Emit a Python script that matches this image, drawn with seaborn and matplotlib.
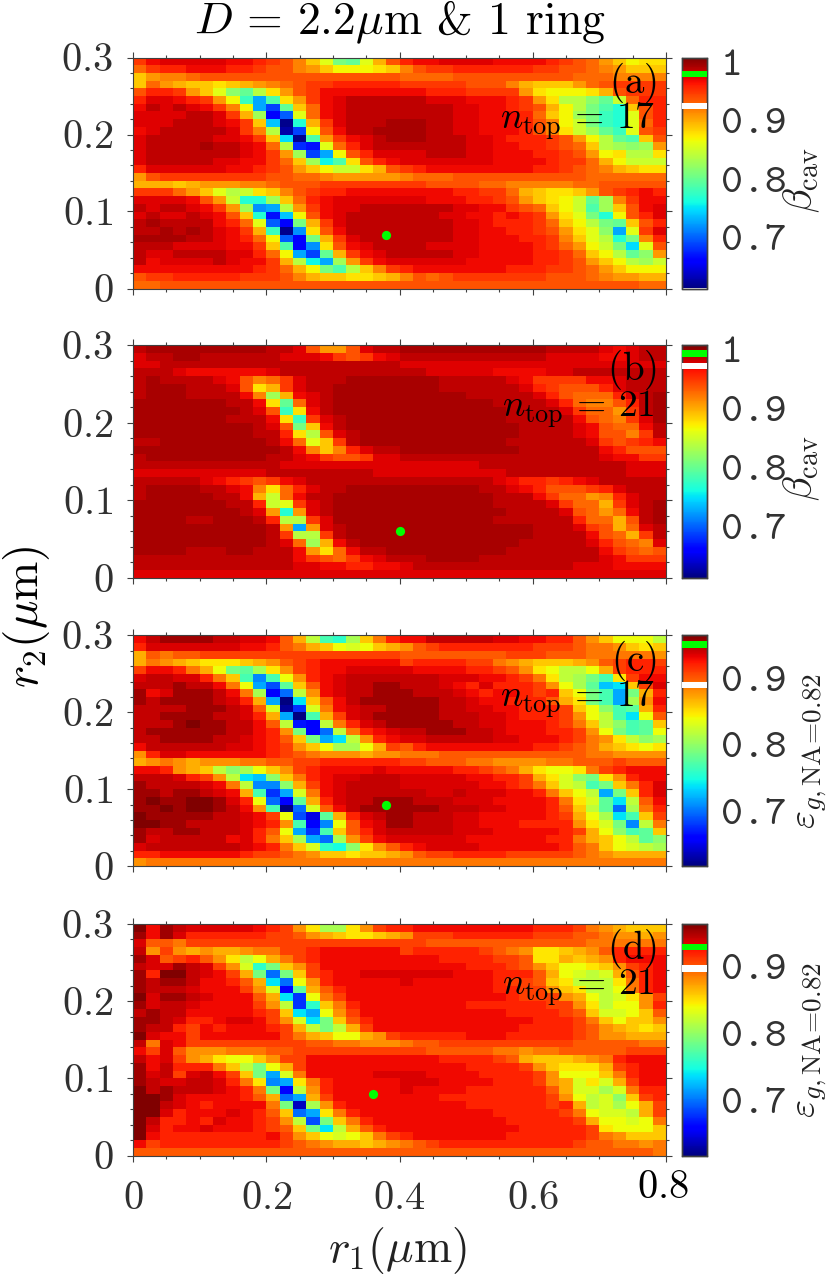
import numpy as np
import seaborn as sns
import matplotlib
matplotlib.use("Agg")
import matplotlib.pyplot as plt
from matplotlib.transforms import ScaledTranslation

# values in percent, top row (r2 = 0.3) first, r1 = 0 on the left
beta_17 = [
[94,96,97,97,97,97,97,96,96,95,94,93,91,88,85,80,79,85,89,93,95,96,96,97,97,97,97,96,96,96,96,95,94,93,92,90,88,86,87,87],
[92,94,95,95,96,96,96,95,95,94,93,93,91,90,88,86,86,86,87,88,91,93,94,94,95,95,95,95,95,95,94,94,93,93,92,91,90,88,88,88],
[88,90,91,91,92,93,93,93,93,93,93,93,93,93,93,93,93,93,93,93,92,92,92,92,93,93,93,93,93,93,93,93,93,92,92,92,91,91,91,91],
[88,92,90,89,88,88,87,88,89,90,91,92,93,94,94,95,95,95,95,95,94,94,94,94,94,93,93,93,91,89,88,88,88,90,92,93,94,94,94,94],
[93,95,95,94,90,88,85,81,79,83,87,90,93,94,96,96,96,96,96,96,96,96,95,95,95,94,94,94,94,90,87,86,86,86,87,89,93,94,94,94],
[95,97,97,96,95,94,90,86,77,72,78,87,90,94,96,97,98,98,98,98,98,98,97,97,97,96,96,96,95,94,90,87,83,83,81,79,84,92,95,95],
[96,98,97,98,97,96,94,91,86,72,68,79,88,92,96,97,98,98,98,98,98,98,98,98,97,97,96,96,95,94,93,89,86,83,80,78,76,88,93,95],
[97,97,97,97,98,98,97,94,89,82,65,69,85,92,96,97,98,98,98,98,98,98,98,98,97,97,96,96,96,95,92,88,86,82,80,77,76,85,93,95],
[97,97,97,98,98,98,97,96,94,88,73,61,76,89,94,97,98,98,98,99,99,99,98,98,97,97,96,96,96,95,93,91,86,84,80,77,76,85,92,95],
[96,97,98,98,98,98,98,97,94,91,83,62,68,86,93,96,98,98,99,99,99,99,98,98,97,97,96,96,96,95,93,91,87,84,82,79,77,85,93,94],
[97,98,98,98,98,98,97,97,96,94,88,74,61,78,90,94,96,97,98,99,99,99,98,98,98,97,97,96,95,95,95,94,93,90,86,83,79,78,88,93],
[97,98,98,98,98,99,98,98,97,96,92,83,67,66,85,92,95,97,98,98,98,98,98,98,98,97,97,96,96,95,95,94,93,92,88,83,82,81,82,90],
[97,98,98,98,98,98,98,98,97,96,94,90,82,68,72,86,93,95,97,97,97,97,98,98,98,97,97,96,96,96,95,95,94,93,90,86,87,83,83,87],
[97,98,98,98,98,98,97,97,96,96,94,92,88,82,75,78,87,93,95,96,97,97,97,97,97,97,97,96,96,96,96,95,94,94,92,89,86,84,84,84],
[95,97,97,97,97,97,97,96,96,95,94,93,90,88,86,84,84,87,89,93,94,95,96,96,96,96,96,96,96,96,95,95,94,93,92,91,89,88,87,87],
[90,93,94,94,94,94,94,94,94,94,93,93,92,92,91,90,90,90,90,90,91,92,92,92,93,93,93,93,93,93,93,93,93,93,92,92,92,92,92,92],
[89,89,89,88,89,90,90,90,91,91,92,93,93,93,94,94,94,94,94,94,94,94,93,93,93,93,92,92,91,91,91,91,91,92,92,93,93,93,93,93],
[94,94,94,92,90,88,85,83,84,87,88,91,93,94,95,95,96,96,96,96,96,96,96,96,95,95,94,94,92,89,88,87,87,88,90,93,94,95,96,95],
[97,97,97,97,96,93,90,84,76,76,82,88,92,95,96,97,97,97,97,97,97,97,96,96,96,95,95,94,93,90,88,87,86,84,79,82,91,94,96,96],
[98,97,98,98,97,96,94,90,82,71,72,83,90,94,96,97,97,98,98,98,98,98,98,98,97,97,96,96,94,93,92,88,86,84,78,82,88,93,96,97],
[97,98,97,97,98,97,96,93,88,76,66,73,86,93,96,97,98,98,98,98,98,98,98,97,97,96,96,95,96,95,94,90,87,85,80,76,86,93,95,97],
[98,99,98,98,98,98,96,95,92,85,69,65,80,89,94,97,98,98,98,98,98,98,98,98,97,97,96,95,95,95,94,92,88,86,83,80,79,88,93,95],
[98,98,99,98,99,98,97,96,94,89,77,61,71,87,93,96,98,98,98,98,98,98,98,98,97,97,96,96,95,95,94,93,90,87,85,81,72,85,94,97],
[99,99,99,99,98,98,97,96,95,92,86,69,65,80,89,94,97,98,98,98,98,98,98,98,97,97,96,96,96,95,95,94,91,88,85,83,76,80,91,95],
[98,98,98,97,97,97,97,96,96,94,88,78,65,71,87,93,96,97,98,98,98,98,97,97,97,97,96,96,96,96,95,94,92,90,86,84,80,74,85,93],
[98,97,97,98,98,98,98,97,97,95,92,86,72,68,79,89,94,96,97,98,98,98,98,98,97,97,96,96,96,96,95,95,94,92,88,86,83,79,81,90],
[98,96,97,97,97,97,98,97,96,96,94,89,83,75,72,82,90,94,96,97,97,97,97,97,97,96,96,96,96,96,95,95,94,93,90,88,86,83,82,84],
[96,96,96,96,96,96,96,96,96,95,94,92,89,86,80,78,83,88,91,94,95,96,96,96,96,96,96,96,95,95,95,94,94,93,92,90,88,86,86,86],
[93,94,94,95,95,95,95,95,94,94,94,93,91,89,88,88,87,87,88,89,91,93,92,93,94,94,94,94,94,94,94,93,93,93,92,91,90,90,89,89],
[92,92,93,93,93,93,93,93,93,93,93,93,93,93,93,93,93,93,93,93,93,93,93,93,93,93,93,93,93,93,93,93,93,93,93,93,93,93,92,92],
]

beta_21 = [
[98,99,99,99,99,99,99,99,99,99,98,98,97,93,90,90,93,97,98,98,99,99,99,99,99,99,99,99,99,99,99,98,98,98,98,97,96,97,98,98],
[97,98,98,99,99,98,98,98,98,98,98,97,97,97,96,94,93,94,96,97,98,98,98,98,98,98,98,98,98,98,98,97,97,97,97,96,96,97,98,98],
[97,97,98,98,98,98,98,98,98,98,98,98,98,98,98,98,98,98,98,98,97,97,97,97,97,97,97,97,97,97,97,97,97,97,97,97,97,97,97,97],
[98,98,98,97,96,96,96,96,96,96,97,98,98,98,98,98,98,98,98,98,98,98,97,97,97,97,97,96,96,96,96,97,97,98,98,98,98,98,98,98],
[98,99,98,98,98,98,97,96,93,91,92,94,97,98,98,98,99,99,99,99,99,99,99,98,98,98,98,98,97,96,94,94,94,94,96,96,97,98,98,98],
[98,99,99,99,98,98,98,97,93,87,89,94,97,98,98,99,99,99,99,99,99,99,99,98,98,98,98,98,98,97,95,94,93,93,93,95,97,98,98,98],
[98,99,99,99,98,98,98,98,96,91,82,89,96,97,98,99,99,99,99,99,99,99,99,99,99,98,98,98,98,98,97,95,93,92,92,92,95,97,98,99],
[99,99,99,99,99,99,99,98,98,96,87,79,92,97,98,99,99,99,99,99,99,99,99,99,99,99,99,98,98,98,98,97,95,92,91,91,93,95,98,99],
[99,99,99,99,99,99,99,99,98,97,93,77,87,96,98,99,99,99,99,99,99,99,99,99,99,99,99,99,98,98,98,98,97,94,92,92,90,94,98,99],
[99,99,99,99,99,99,99,98,98,98,96,87,77,94,97,98,99,99,99,99,99,99,99,99,99,99,99,99,98,98,98,98,98,96,93,92,91,94,97,99],
[99,99,99,99,99,99,99,99,99,98,97,93,80,88,96,98,99,99,99,99,99,99,99,99,99,99,99,99,99,98,98,98,98,97,96,93,92,92,96,98],
[99,99,99,99,99,99,99,99,99,98,98,95,87,83,93,97,98,99,99,99,99,99,99,99,99,99,99,99,99,98,98,98,98,97,96,93,93,91,94,98],
[98,98,99,99,99,99,99,99,99,99,98,96,92,85,88,94,98,99,99,99,99,99,99,99,99,99,99,99,98,98,98,98,98,98,97,94,93,94,95,96],
[99,99,99,99,99,99,99,99,99,99,99,98,96,91,88,91,95,97,98,98,99,99,99,99,99,99,99,99,99,98,98,98,98,98,98,96,95,93,93,93],
[98,99,99,99,99,99,99,99,99,99,98,98,97,96,94,93,93,94,97,97,98,98,98,98,98,98,98,98,98,98,98,98,98,98,98,97,96,96,94,94],
[98,98,98,98,98,98,98,98,98,98,98,97,97,97,97,97,97,97,97,97,97,97,97,97,97,97,98,98,98,98,98,98,98,98,98,98,98,97,97,97],
[97,97,97,97,97,97,97,97,97,97,98,98,98,98,98,98,98,98,97,97,97,97,97,97,97,97,97,97,98,98,98,98,98,98,98,98,98,97,97,97],
[98,98,98,98,98,97,96,95,94,93,94,96,97,98,98,98,98,98,98,98,98,98,98,98,98,98,98,97,96,95,95,94,95,96,97,98,98,98,98,98],
[98,99,99,99,99,98,98,97,96,91,87,92,95,97,98,98,99,99,99,99,99,99,99,99,99,99,98,98,97,96,95,93,93,93,94,95,97,98,98,98],
[98,99,99,99,99,99,98,98,96,89,84,92,96,98,98,99,99,99,99,99,99,99,99,99,99,99,99,98,98,98,96,94,92,92,90,91,95,97,98,98],
[99,99,99,99,99,99,99,98,98,95,84,85,94,97,98,99,99,99,99,99,99,99,99,99,99,99,99,98,98,98,98,97,94,92,92,89,94,97,98,99],
[99,99,99,99,99,99,99,99,98,97,90,76,90,97,98,99,99,99,99,99,99,99,99,99,99,99,99,99,98,98,98,98,97,93,92,90,92,96,98,99],
[99,99,99,99,98,98,99,99,99,98,95,83,83,94,97,99,99,99,99,99,99,99,99,99,99,99,99,98,98,98,98,98,98,95,92,92,89,93,98,99],
[99,99,99,99,99,99,99,99,99,99,98,90,72,90,97,98,99,99,99,99,99,99,99,99,99,99,99,99,99,99,98,98,98,97,94,93,89,92,97,98],
[99,99,99,99,99,99,99,99,99,99,98,94,83,83,94,98,99,99,99,99,99,99,99,99,99,99,99,99,99,99,98,98,98,98,96,93,92,89,94,98],
[99,99,99,99,99,99,99,99,99,99,98,97,92,82,89,96,98,99,99,99,99,99,99,99,99,99,99,99,99,98,98,98,98,98,97,95,93,92,91,97],
[99,99,99,99,98,98,98,99,99,98,98,98,96,90,87,92,96,98,98,99,99,99,99,99,99,99,99,99,98,98,98,98,98,98,98,96,94,93,92,93],
[98,98,98,98,98,98,98,98,98,98,98,98,96,94,93,92,94,96,97,98,98,98,99,99,99,99,98,98,98,98,98,98,98,98,98,97,96,94,94,94],
[98,98,98,98,98,98,98,98,98,98,98,98,97,97,96,96,95,95,96,96,97,98,98,98,98,98,98,98,98,98,98,98,98,97,97,97,96,96,96,96],
[97,97,97,97,97,97,97,97,97,97,97,97,97,97,97,97,97,97,97,97,97,97,97,97,97,97,97,97,97,97,97,97,97,97,97,97,97,97,97,97],
]

eps_17 = [
[92,94,95,95,95,95,94,94,93,93,92,89,86,81,76,75,80,85,88,91,92,92,94,94,94,94,94,93,93,92,92,91,91,89,87,85,83,83,83,81],
[91,93,93,93,93,93,93,93,92,92,91,89,88,86,85,83,82,83,85,86,87,89,90,91,91,91,91,91,91,91,90,90,90,89,88,88,87,85,84,85],
[86,89,88,89,89,90,90,90,90,90,90,90,90,90,90,90,90,90,90,90,89,89,89,89,89,89,89,89,90,90,90,89,89,89,88,88,88,88,88,87],
[86,88,87,86,85,84,84,84,85,86,87,89,90,91,92,92,92,92,92,92,90,91,91,91,91,90,90,88,87,86,85,85,85,86,87,89,90,91,91,90],
[90,92,92,91,88,86,83,78,77,80,84,87,90,91,92,92,93,93,93,93,93,92,92,92,92,91,91,90,89,87,84,83,81,81,83,86,90,91,91,91],
[93,94,94,93,93,91,88,85,76,70,76,83,87,91,92,93,94,94,94,94,94,94,94,93,93,93,92,92,91,90,88,84,81,80,78,76,84,90,92,92],
[94,94,94,95,94,94,92,88,83,71,68,77,85,89,92,93,94,94,95,95,94,94,94,93,92,91,93,91,91,91,90,87,83,80,77,72,73,85,90,93],
[95,92,93,95,95,95,94,92,88,80,65,69,81,87,92,93,94,94,95,95,95,94,94,94,93,92,91,92,92,91,90,91,85,83,78,76,71,78,86,91],
[95,94,95,95,95,95,94,93,91,86,71,61,73,85,89,92,94,95,95,95,95,95,95,94,94,93,92,92,91,91,91,89,86,84,78,76,71,80,87,92],
[94,94,94,94,95,95,95,94,93,89,82,62,67,82,88,92,93,94,94,95,95,95,95,94,94,93,93,92,92,91,91,91,90,85,83,79,76,77,86,91],
[94,94,95,95,95,95,94,94,93,91,86,71,61,76,86,90,93,94,95,95,95,95,95,94,94,94,93,93,92,91,91,91,90,87,83,81,76,73,83,89],
[94,94,94,95,96,95,95,94,94,92,89,81,66,65,81,88,91,93,94,95,95,95,95,95,94,94,93,93,92,92,92,91,90,88,85,81,79,76,77,85],
[94,95,95,95,95,95,95,94,94,92,91,87,78,65,69,81,88,91,92,93,94,94,95,95,95,94,94,93,92,92,92,91,91,90,87,83,78,76,77,83],
[94,94,95,95,95,95,94,94,93,92,91,89,85,78,71,73,81,87,91,92,93,93,94,94,94,94,94,93,93,92,92,92,91,90,88,87,84,81,79,80],
[92,94,94,94,94,94,94,93,93,92,91,90,87,85,83,80,80,83,86,90,89,91,92,92,92,92,92,92,92,92,91,91,90,89,88,86,85,84,83,84],
[87,91,93,93,92,92,92,92,92,92,91,90,89,88,87,87,87,86,87,87,88,88,88,89,89,89,89,89,89,89,89,89,89,89,88,88,87,87,87,87],
[86,87,88,87,86,87,87,87,88,88,89,89,90,90,91,91,91,91,91,91,90,90,89,89,89,88,88,87,87,87,87,88,88,89,89,89,90,89,89,89],
[92,92,91,87,86,85,81,79,80,83,85,87,90,91,92,92,92,92,93,92,92,92,92,92,91,91,90,89,88,86,84,83,83,84,88,90,91,92,92,92],
[94,94,94,93,91,90,87,81,73,72,79,85,88,91,92,93,93,94,94,94,93,93,93,93,93,92,92,91,91,90,86,84,82,79,78,84,87,91,92,92],
[95,94,94,94,94,93,92,88,81,70,70,79,86,90,92,93,94,94,94,94,93,93,93,93,93,93,92,92,91,90,88,85,82,81,76,78,85,88,91,93],
[95,95,94,95,95,94,93,92,86,76,67,71,82,88,92,93,94,94,94,94,94,94,93,93,94,93,93,93,92,92,91,88,85,83,81,71,78,85,91,93],
[95,96,95,95,96,96,95,93,91,83,69,65,77,86,91,93,94,94,95,95,95,94,94,94,93,93,93,92,92,92,92,91,88,84,82,77,73,81,89,92],
[95,95,96,95,96,96,95,94,92,87,76,61,69,82,89,92,94,95,95,95,95,95,95,94,94,94,93,93,92,92,92,91,89,85,81,77,69,80,88,91],
[96,95,95,95,95,95,94,94,93,92,90,83,68,64,77,86,91,93,94,95,95,94,94,94,93,93,92,92,92,92,92,91,90,86,83,80,73,76,85,90],
[96,96,95,95,94,94,94,94,93,92,91,87,76,65,70,83,89,92,93,95,95,94,94,94,93,93,92,92,92,91,91,91,91,87,84,82,78,70,81,88],
[95,94,94,95,95,94,94,94,93,91,89,83,71,67,76,85,89,91,93,94,94,94,94,94,93,93,93,92,92,92,92,92,91,90,86,83,79,76,77,85],
[95,93,94,94,94,94,94,92,93,91,88,85,80,71,69,80,87,90,92,93,93,93,93,93,93,92,92,92,92,92,92,91,91,88,86,85,83,81,77,79],
[93,94,94,94,94,94,94,94,93,92,91,88,85,82,75,74,79,84,87,89,91,92,93,93,93,93,92,92,92,92,92,92,91,89,88,85,83,82,81,80],
[91,91,92,92,92,92,92,92,91,90,90,89,88,87,85,85,84,85,85,86,87,89,90,90,91,91,91,91,90,90,90,90,90,89,88,87,86,86,86,86],
[87,88,88,88,88,88,88,88,88,88,88,88,88,88,88,88,88,88,88,88,88,88,88,88,88,88,88,88,88,88,88,88,88,88,88,88,88,88,88,88],
]

eps_21 = [
[96,92,95,94,93,93,93,93,93,92,91,90,87,84,80,80,84,87,90,91,91,92,92,92,92,92,92,92,92,92,91,91,91,90,88,87,86,85,85,85],
[95,92,95,93,91,91,91,91,91,91,90,90,89,87,86,85,84,84,85,86,87,90,90,90,91,91,91,91,91,91,90,90,90,89,89,88,87,87,86,87],
[93,89,89,88,90,90,90,90,90,90,90,90,90,90,90,90,90,90,90,90,90,90,89,89,89,89,89,89,89,89,89,89,89,89,88,88,88,88,88,88],
[94,87,90,87,86,87,86,86,87,88,88,90,90,91,92,92,92,92,92,92,90,91,91,91,91,91,90,89,88,87,84,84,85,86,87,89,91,91,91,91],
[95,93,89,90,91,89,87,84,81,83,86,88,90,91,92,92,92,92,92,92,92,92,92,91,91,91,91,90,90,89,84,84,86,85,86,87,91,92,92,92],
[94,93,93,95,94,93,90,87,82,75,78,85,87,90,92,92,92,92,92,92,92,92,92,92,92,91,91,91,90,89,87,85,83,83,84,85,87,90,91,92],
[95,91,96,96,94,93,92,90,86,78,69,78,85,90,91,92,92,93,93,93,93,93,93,93,92,92,92,91,91,91,89,86,83,82,81,82,86,89,91,92],
[95,94,95,95,94,92,92,91,89,86,73,69,83,87,91,92,92,92,92,92,93,92,92,92,92,92,92,91,90,90,89,85,84,81,81,81,84,88,91,92],
[95,94,94,94,93,92,92,92,90,87,82,65,77,86,89,91,92,92,92,92,92,92,92,92,92,92,92,91,91,90,90,87,85,84,81,81,83,88,91,92],
[96,93,95,95,94,93,92,92,92,89,86,73,67,83,88,90,92,92,92,92,92,92,92,92,92,92,92,92,91,90,90,90,87,86,83,81,82,84,87,90],
[95,93,94,94,93,92,92,92,92,90,87,81,67,75,85,88,91,92,92,92,92,92,92,92,92,91,91,91,91,91,91,90,90,87,84,81,83,83,87,91],
[94,95,94,94,92,92,92,92,92,91,90,85,73,71,83,87,90,92,92,92,92,92,92,92,92,92,92,92,91,91,91,91,90,89,85,82,82,83,85,89],
[95,95,94,93,91,91,92,93,93,92,90,87,82,73,78,85,89,91,92,92,92,92,92,92,92,92,92,92,92,92,91,91,91,90,88,85,83,85,85,87],
[95,94,94,91,90,92,91,92,92,92,91,90,86,81,78,81,86,90,92,92,92,92,92,92,92,92,92,92,92,91,91,91,91,90,89,87,86,85,84,85],
[96,93,92,92,90,92,92,92,92,92,92,90,88,86,85,83,83,86,87,90,91,91,91,91,91,92,92,92,91,91,91,91,91,90,89,87,87,86,86,86],
[94,88,93,92,90,90,90,90,90,90,90,90,90,89,89,88,88,87,87,87,88,89,89,90,90,90,90,90,90,90,90,90,90,89,89,89,89,89,88,88],
[92,90,93,89,87,87,87,88,88,88,89,89,90,90,90,90,90,90,90,90,90,90,89,89,89,89,89,88,88,87,88,88,89,89,89,89,89,90,90,90],
[94,92,93,90,87,86,84,83,83,85,87,90,90,92,92,92,92,92,92,92,92,92,92,91,91,91,91,90,89,86,85,85,85,86,87,88,91,92,92,92],
[95,92,94,91,91,91,88,85,81,78,83,86,90,92,92,92,92,92,92,92,92,92,92,92,92,91,91,91,91,90,87,85,84,84,84,86,90,91,92,92],
[95,93,94,90,93,94,92,90,85,78,71,82,88,92,92,92,92,92,93,93,93,93,92,92,92,92,91,91,91,91,90,87,83,83,83,85,88,91,92,92],
[95,94,93,93,94,94,93,91,88,84,70,71,84,88,91,92,92,92,92,92,93,93,93,92,92,92,92,91,91,91,90,87,86,82,84,82,86,90,92,92],
[96,94,95,94,94,94,93,92,91,88,78,65,81,87,91,92,92,92,92,92,93,92,92,92,92,91,91,91,91,91,91,89,86,82,82,80,82,88,91,91],
[96,96,95,93,92,92,92,92,91,89,86,69,71,86,90,92,92,92,92,92,92,92,92,91,91,91,91,91,91,91,91,90,87,83,81,82,79,85,90,91],
[96,96,94,93,92,91,92,92,92,92,88,78,63,80,87,91,92,92,92,92,92,92,92,92,92,91,91,91,91,91,91,90,91,86,81,82,80,83,86,90],
[96,96,93,91,92,92,92,93,92,91,89,85,69,71,84,88,91,92,92,92,92,92,92,92,92,92,92,91,91,91,91,91,90,88,83,82,82,81,86,90],
[96,94,91,91,92,91,93,92,92,91,90,87,81,68,78,85,88,91,92,92,92,92,92,92,92,92,92,92,91,91,91,91,91,90,86,83,83,82,83,88],
[96,93,91,92,92,93,92,92,92,91,90,89,85,78,73,81,86,89,91,92,92,92,92,92,92,92,92,92,92,91,91,91,91,91,90,84,83,83,83,85],
[96,92,91,91,91,91,91,91,91,91,92,90,87,85,83,82,83,85,88,90,91,92,92,92,92,92,92,92,91,91,91,91,91,91,90,88,87,85,85,85],
[92,90,91,91,91,91,91,91,91,91,91,90,89,88,87,86,86,85,86,87,88,89,90,91,91,91,91,91,91,91,91,91,91,90,89,89,88,88,87,88],
[89,89,89,89,89,89,89,89,89,89,89,89,89,89,89,89,89,89,89,89,89,89,89,89,89,89,89,89,89,89,89,89,89,89,89,89,89,89,89,88],
]

# the percent readings are coarse in the dark reds, these refine them
beta_levels = [60, 96, 97, 98, 99, 100]
beta_refined = [60, 96.05, 96.7, 97.8, 98.5, 100]
eps_levels = [60, 92, 93, 94, 95, 96]
eps_refined = [60, 92.2, 92.9, 93.6, 94.7, 95.65]

panel_letters = ["(a)", "(b)", "(c)", "(d)"]
n_top = [17, 21, 17, 21]
color_lims = [(0.605, 1.0), (0.605, 1.0), (0.6105, 0.9565), (0.6105, 0.9565)]
cbar_ticks = [[0.7, 0.8, 0.9, 1.0], [0.7, 0.8, 0.9, 1.0], [0.7, 0.8, 0.9], [0.7, 0.8, 0.9]]
cbar_labels = [["0.7", "0.8", "0.9", "1"], ["0.7", "0.8", "0.9", "1"], ["0.7", "0.8", "0.9"], ["0.7", "0.8", "0.9"]]
green_band = [(0.967, 0.977), (0.979, 0.991), (0.938, 0.948), (0.918, 0.926)]
white_band = [(0.912, 0.923), (0.959, 0.9695), (0.877, 0.887), (0.885, 0.895)]
best_r1 = [0.38, 0.40, 0.38, 0.36]
best_r2 = [0.07, 0.06, 0.08, 0.08]
cbar_names = [r"$\beta_{\mathrm{cav}}$", r"$\beta_{\mathrm{cav}}$",
              r"$\varepsilon_{g,\mathrm{NA}\!=\!0.82}$", r"$\varepsilon_{g,\mathrm{NA}\!=\!0.82}$"]
all_panels = [beta_17, beta_21, eps_17, eps_21]

W, H = 830, 1277
sns.set_theme(style="ticks")
plt.rcParams["mathtext.fontset"] = "cm"
plt.rcParams["font.family"] = ["cmr10", "DejaVu Sans"]
plt.rcParams["axes.formatter.use_mathtext"] = True
DARK = "#404040"
LABEL = "#303030"


def px_axes(fig, x0, y0, x1, y1):
    return fig.add_axes([x0 / W, 1 - y1 / H, (x1 - x0) / W, (y1 - y0) / H])


fig = plt.figure(figsize=(W / 100, H / 100), dpi=100)
tops = [57.5, 345, 635.5, 924]
bottoms = [288.5, 578, 866, 1155.5]

for i, rows in enumerate(all_panels):
    if i < 2:
        vals = np.interp(np.array(rows), beta_levels, beta_refined) / 100
    else:
        vals = np.interp(np.array(rows), eps_levels, eps_refined) / 100
    ax = px_axes(fig, 133, tops[i], 666, bottoms[i])
    cax = px_axes(fig, 682, tops[i], 707, bottoms[i])
    sns.heatmap(vals, ax=ax, cbar_ax=cax, cmap="jet",
                vmin=color_lims[i][0], vmax=color_lims[i][1],
                xticklabels=False, yticklabels=False, linewidths=0)
    sns.scatterplot(x=[best_r1[i] / 0.02], y=[(0.3 - best_r2[i]) / 0.01], ax=ax,
                    color="#00ff00", s=44, linewidth=0, legend=False, zorder=5)
    ax.set_xlim(0, 40)
    ax.set_ylim(30, 0)
    ax.set(xlabel="", ylabel="")

    ax.set_xticks(np.array([0, 0.2, 0.4, 0.6, 0.8]) / 0.02)
    ax.set_xticks(np.arange(0, 0.801, 0.05) / 0.02, minor=True)
    ax.set_yticks((0.3 - np.array([0, 0.1, 0.2, 0.3])) / 0.01)
    ax.set_yticks((0.3 - np.arange(0, 0.301, 0.02)) / 0.01, minor=True)
    ax.set_yticklabels(["$0$", "$0.1$", "$0.2$", "$0.3$"], fontsize=29, rotation=0, color=LABEL)
    if i == 3:
        ax.set_xticklabels(["$0$", "$0.2$", "$0.4$", "$0.6$", ""], fontsize=29, color=LABEL)
        # the last label sits a little higher than the others
        ax.text(0.994, -0.14, "$0.8$", transform=ax.transAxes, ha="center", va="center",
                fontsize=29, color="black")
    else:
        ax.set_xticklabels([])
    ax.tick_params(which="major", direction="out", length=4.3, width=0.8, color=DARK,
                   top=True, right=True, bottom=True, left=True)
    ax.tick_params(which="minor", direction="out", length=2.2, width=0.8, color=DARK,
                   top=True, right=True, bottom=True, left=True)
    ax.tick_params(axis="x", which="major", pad=14)
    ax.tick_params(axis="y", which="major", pad=10)
    for s in ax.spines.values():
        s.set_visible(True)
        s.set_color(DARK)
        s.set_linewidth(0.8)

    ax.text(0.983, 0.892, f"$\\mathrm{{{panel_letters[i]}}}$", transform=ax.transAxes,
            ha="right", va="center", fontsize=28, color="black")
    ax.text(0.979, 0.725, rf"$n_{{\mathrm{{top}}}}\,=\,{n_top[i]}$", transform=ax.transAxes,
            ha="right", va="center", fontsize=27, color="black")

    # colorbar with the two marker bands
    cax.axhspan(*green_band[i], color="#00ff00", lw=0, zorder=4)
    cax.axhspan(*white_band[i], color="white", lw=0, zorder=4)
    cax.set_ylim(*color_lims[i])
    cax.set_yticks(cbar_ticks[i])
    cax.set_yticklabels(cbar_labels[i], fontfamily="cmtt10", fontsize=30, color="#333333")
    cax.tick_params(axis="y", which="major", direction="in", length=3, width=0.8, color=DARK,
                    right=True, left=False, pad=10)
    cax.minorticks_off()
    for lab in cax.get_yticklabels():
        lab.set_transform(lab.get_transform() + ScaledTranslation(0, -0.05, fig.dpi_scale_trans))
    for s in cax.spines.values():
        s.set_visible(True)
        s.set_color(DARK)
        s.set_linewidth(1.0)
    mid = (tops[i] + bottoms[i]) / 2
    if i < 2:
        fig.text(802 / W, 1 - (mid + 7) / H, cbar_names[i], rotation=90, ha="center", va="center",
                 fontsize=29, color="#222222")
    else:
        fig.text(811 / W, 1 - mid / H, cbar_names[i], rotation=90, ha="center", va="center",
                 fontsize=28, color="#222222")

fig.text(399.5 / W, 1 - 22 / H, r"$D\,=\,2.2\mu$m & 1 ring",
         ha="center", va="center", fontsize=33, color="black")
fig.text(26 / W, 1 - 617 / H, r"$r_2(\mu\mathrm{m})$", rotation=90,
         ha="center", va="center", fontsize=34, color="black")
fig.text(397 / W, 1 - 1251 / H, r"$r_1(\mu\mathrm{m})$",
         ha="center", va="center", fontsize=33, color="#222222")
fig.savefig("out.png", dpi=100)
